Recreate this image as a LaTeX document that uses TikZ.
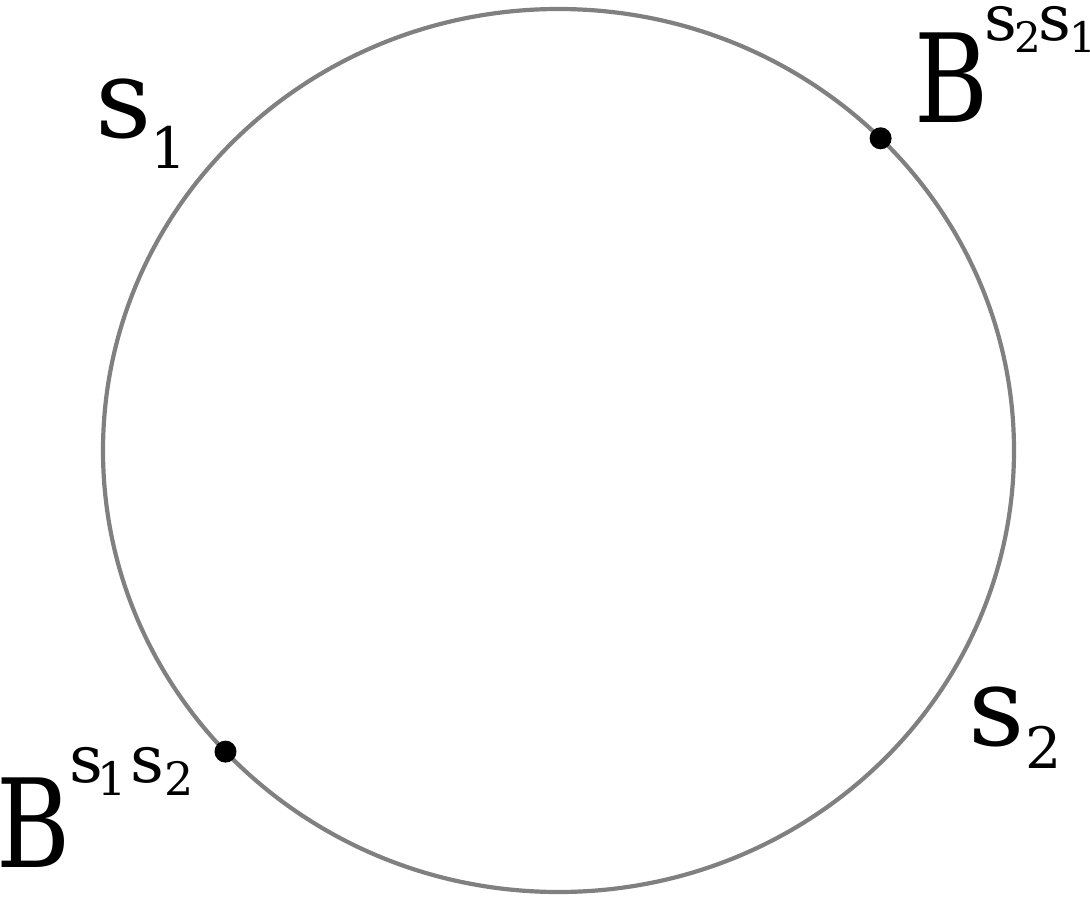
\documentclass[tikz,border=0pt]{standalone}
\usepackage{fontspec}
\setmainfont{DejaVu Serif}
\newcommand{\fsz}[1]{\fontsize{#1}{#1}\selectfont}
\definecolor{ringgray}{RGB}{128,128,128}
\tikzset{
  ring/.style={draw=ringgray, line width=4.2pt},
  dotmark/.style={circle, fill=black, inner sep=0pt, minimum size=22pt},
  lbl/.style={anchor=base west, inner sep=0pt, outer sep=0pt},
}
\begin{document}
\begin{tikzpicture}[x=1pt,y=-1pt]
\useasboundingbox (0,0) rectangle (1090,897);
\coordinate (c) at (558.5,450.5);
\draw[ring] (c) ellipse [x radius=455.5, y radius=441.5];
\node[dotmark] (dA) at (880.6,138.3) {};
\node[dotmark] (dB) at (225.5,751.6) {};
% s1
\node[lbl] (lsone) at (95,137) {\fsz{110}s\kern-1pt\raisebox{-31pt}{\fsz{57}1}};
% s2
\node[lbl] (lstwo) at (968,745) {\fsz{110}s\kern1pt\raisebox{-23pt}{\fsz{57}2}};
% B^{s2 s1}
\node[lbl] (lbA) at (914,122) {\fsz{123}\scalebox{0.82}[1]{B}\kern-4pt\raisebox{82pt}{\fsz{64}s}\kern-2pt\raisebox{70pt}{\fsz{42}2}\kern-3pt\raisebox{82pt}{\fsz{64}s}\kern-2pt\raisebox{70pt}{\fsz{42}1}};
% B^{s1 s2}
\node[lbl] (lbB) at (-3,867) {\fsz{123}\scalebox{0.82}[1]{B}\kern-2pt\raisebox{85pt}{\fsz{66}s}\kern-5pt\raisebox{72pt}{\fsz{46}1}\kern3pt\raisebox{85pt}{\fsz{66}s}\kern0pt\raisebox{72pt}{\fsz{46}2}};
\end{tikzpicture}
\end{document}
